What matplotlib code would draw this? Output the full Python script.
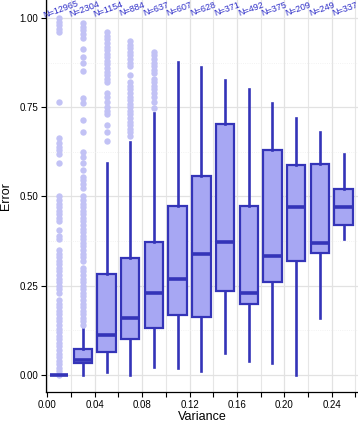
import matplotlib
matplotlib.use("Agg")
import matplotlib.pyplot as plt
from matplotlib.ticker import MultipleLocator

# ----------------------------------------------------------------------
# Data
# ----------------------------------------------------------------------
centers = [0.01, 0.03, 0.05, 0.07, 0.09, 0.11, 0.13, 0.15, 0.17, 0.19, 0.21, 0.23, 0.25]
counts = [12965, 2304, 1154, 884, 637, 607, 628, 371, 492, 375, 209, 249, 337]

q1 = [0.0, 0.034, 0.064, 0.100, 0.132, 0.168, 0.163, 0.235, 0.200, 0.260, 0.319, 0.342, 0.420]
med = [0.0, 0.043, 0.112, 0.160, 0.230, 0.269, 0.339, 0.372, 0.230, 0.333, 0.470, 0.370, 0.470]
q3 = [0.0, 0.073, 0.283, 0.328, 0.372, 0.473, 0.557, 0.703, 0.473, 0.630, 0.588, 0.591, 0.520]
whislo = [0.0, 0.0, 0.008, 0.0, 0.022, 0.020, 0.011, 0.062, 0.039, 0.034, 0.0, 0.160, 0.380]
whishi = [0.0, 0.130, 0.594, 0.653, 0.734, 0.877, 0.863, 0.826, 0.800, 0.762, 0.720, 0.680, 0.619]

fliers_1 = [0.00, 0.01, 0.02, 0.03, 0.04, 0.05, 0.06, 0.07, 0.08, 0.09, 0.10,
            0.11, 0.12, 0.13, 0.14, 0.15, 0.16, 0.17, 0.18, 0.19, 0.20, 0.21,
            0.23, 0.24, 0.25, 0.26, 0.27, 0.28, 0.29, 0.30, 0.31, 0.32, 0.33,
            0.34, 0.35, 0.38, 0.39, 0.405, 0.43, 0.44, 0.45, 0.46, 0.47, 0.48,
            0.49, 0.50, 0.595, 0.62, 0.63, 0.64, 0.65, 0.665, 0.765,
            0.96, 0.97, 0.98, 0.99, 1.00]
fliers_2 = [0.14, 0.15, 0.16, 0.17, 0.18, 0.19, 0.20, 0.21, 0.22, 0.23, 0.24,
            0.25, 0.26, 0.27, 0.28, 0.29, 0.30, 0.32, 0.33, 0.34, 0.35, 0.36,
            0.37, 0.38, 0.39, 0.40, 0.41, 0.42, 0.43, 0.44, 0.45, 0.46, 0.47,
            0.48, 0.49, 0.50, 0.525, 0.535, 0.545, 0.555, 0.575, 0.595, 0.61,
            0.625, 0.68, 0.715, 0.762, 0.776, 0.852, 0.874, 0.891, 0.913,
            0.945, 0.955, 0.965, 0.975, 0.985]
fliers_3 = [0.655, 0.68, 0.70, 0.73, 0.74, 0.75, 0.765, 0.78, 0.79, 0.82, 0.83,
            0.84, 0.85, 0.86, 0.87, 0.88, 0.89, 0.90, 0.91, 0.92, 0.93, 0.94,
            0.95, 0.96]
fliers_4 = [0.67, 0.68, 0.69, 0.70, 0.71, 0.72, 0.73, 0.74, 0.75, 0.76, 0.77,
            0.78, 0.79, 0.80, 0.81, 0.82, 0.84, 0.865, 0.875, 0.885, 0.895,
            0.905, 0.915, 0.925, 0.935]
fliers_5 = [0.748, 0.765, 0.78, 0.79, 0.80, 0.81, 0.82, 0.83, 0.846, 0.855,
            0.865, 0.875, 0.885, 0.895, 0.905]
fliers = [fliers_1, fliers_2, fliers_3, fliers_4, fliers_5] + [[]] * 8

x_ticks = [0.00, 0.04, 0.08, 0.12, 0.16, 0.20, 0.24]
y_ticks = [0.00, 0.25, 0.50, 0.75, 1.00]

# ----------------------------------------------------------------------
# Style
# ----------------------------------------------------------------------
BOX_FACE = "#a7a7f3"
BOX_EDGE = "#3434b8"
FLIER = "#c2c2f5"
LABEL_BLUE = "#2d2dc8"

plt.rcParams["font.family"] = ["Liberation Sans", "DejaVu Sans"]

fig = plt.figure(figsize=(3.58, 4.23), dpi=100)
ax = fig.add_axes([45.7 / 358, 31 / 423, (358 - 45.7) / 358, 392 / 423])

stats = []
for i in range(len(centers)):
    stats.append({
        "med": med[i], "q1": q1[i], "q3": q3[i],
        "whislo": whislo[i], "whishi": whishi[i],
        "fliers": fliers[i],
    })

ax.bxp(
    stats, positions=centers, widths=0.0155, patch_artist=True,
    showcaps=False, manage_ticks=False,
    boxprops=dict(facecolor=BOX_FACE, edgecolor=BOX_EDGE, linewidth=1.6),
    medianprops=dict(color=BOX_EDGE, linewidth=2.6, solid_capstyle="butt"),
    whiskerprops=dict(color=BOX_EDGE, linewidth=1.9),
    flierprops=dict(marker="o", markersize=4.6, markerfacecolor=FLIER,
                    markeredgecolor="none"),
)

# sample size labels along the top
for x, n in zip(centers, counts):
    ax.text(x + 0.0015, 1.025, f"N={n}", rotation=20, ha="center", va="center",
            fontsize=6.5, color=LABEL_BLUE, clip_on=False)

ax.set_xlim(-0.0014, 0.2622)
ax.set_ylim(-0.0476, 1.0504)
ax.set_xticks(x_ticks)
ax.set_xticklabels([f"{t:.2f}" for t in x_ticks])
ax.set_yticks(y_ticks)
ax.set_yticklabels([f"{t:.2f}" for t in y_ticks])
ax.xaxis.set_minor_locator(MultipleLocator(0.02))
ax.yaxis.set_minor_locator(MultipleLocator(0.125))

ax.tick_params(axis="both", which="both", direction="out", length=3.5,
               width=0.8, color="black", labelsize=7, pad=2)
ax.tick_params(axis="y", which="minor", length=0)

ax.set_axisbelow(True)
ax.grid(which="major", axis="both", color="#e2e2e2", linewidth=0.9)
ax.grid(which="minor", axis="x", color="#e6e6e6", linewidth=0.8)
ax.grid(which="minor", axis="y", color="#eeeeee", linewidth=0.6, linestyle=":")

for side in ("top", "right"):
    ax.spines[side].set_visible(False)
ax.spines["left"].set_linewidth(0.9)
ax.spines["bottom"].set_linewidth(0.9)

ax.set_xlabel("Variance", fontsize=9, labelpad=1)
ax.set_ylabel("Error", fontsize=9, labelpad=5)

fig.savefig("out.png", dpi=100)
